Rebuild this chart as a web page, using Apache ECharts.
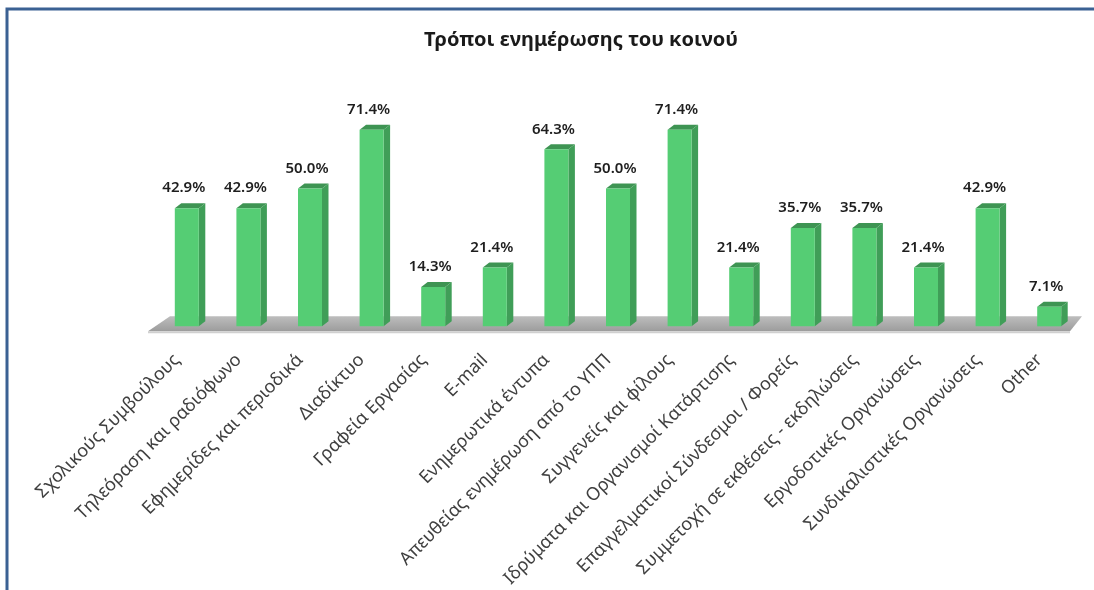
<!DOCTYPE html>
<html>
<head>
<meta charset="utf-8">
<script src="https://cdn.jsdelivr.net/npm/echarts@6/dist/echarts.min.js"></script>
<style>
  html, body { margin: 0; padding: 0; background: #fff; }
  #main { width: 1094px; height: 590px; }
</style>
</head>
<body>
<div id="main"></div>
<script>
// categories and percentages
const categories = [
  'Σχολικούς Συμβούλους',
  'Τηλεόραση και ραδιόφωνο',
  'Εφημερίδες και περιοδικά',
  'Διαδίκτυο',
  'Γραφεία Εργασίας',
  'E-mail',
  'Ενημερωτικά έντυπα',
  'Απευθείας ενημέρωση από το ΥΠΠ',
  'Συγγενείς και φίλους',
  'Ιδρύματα και Οργανισμοί Κατάρτισης',
  'Επαγγελματικοί Σύνδεσμοι / Φορείς',
  'Συμμετοχή σε εκθέσεις - εκδηλώσεις',
  'Εργοδοτικές Οργανώσεις',
  'Συνδικαλιστικές Οργανώσεις',
  'Other'
];
const percents = [42.9, 42.9, 50.0, 71.4, 14.3, 21.4, 64.3, 50.0, 71.4, 21.4, 35.7, 35.7, 21.4, 42.9, 7.1];
const titleText = 'Τρόποι ενημέρωσης του κοινού';

const chart = echarts.init(document.getElementById('main'), null, { renderer: 'canvas' });

const barData = percents.map((v, i) => [i, v]);

// fake 3d column: front face, side face, top face + value label
function renderBar(params, api) {
  const i = api.value(0);
  const v = api.value(1);
  const top = api.coord([i, v]);
  const base = api.coord([i, 0]);
  const w = 24, dx = 6.5, dy = -5;
  const x0 = top[0] - w / 2, x1 = top[0] + w / 2;
  const yt = top[1], yb = base[1];
  return {
    type: 'group',
    children: [
      { type: 'polygon', shape: { points: [[x1, yt], [x1 + dx, yt + dy], [x1 + dx, yb + dy], [x1, yb]] },
        style: { fill: '#409E58' } },
      { type: 'polygon', shape: { points: [[x0, yt], [x1, yt], [x1 + dx, yt + dy], [x0 + dx, yt + dy]] },
        style: { fill: '#3E9453' } },
      { type: 'rect', shape: { x: x0, y: yt, width: w, height: yb - yt },
        style: { fill: '#55CD74' } },
      { type: 'text', x: top[0] - 3, y: yt - 20,
        style: { text: v.toFixed(1) + '%', fill: '#1E1E1E', font: '600 15px "Noto Sans"',
                 align: 'center', verticalAlign: 'middle' } }
    ]
  };
}

// grey floor under the columns
function renderFloor(params, api) {
  const n = categories.length;
  const band = api.size([1, 0])[0];
  const first = api.coord([0, 0]);
  const last = api.coord([n - 1, 0]);
  const xl = first[0] - band / 2, xr = last[0] + band / 2, y = first[1];
  return {
    type: 'group',
    children: [
      { type: 'polygon',
        shape: { points: [[xl - 8, y + 5], [xl + 14, y - 10], [xr + 2, y - 10], [xr - 10, y + 5]] },
        style: { fill: new echarts.graphic.LinearGradient(0, 0, 0, 1, [
          { offset: 0, color: '#BDBDBD' }, { offset: 1, color: '#9C9C9C' }]) } },
      { type: 'polygon',
        shape: { points: [[xl - 8, y + 5], [xr - 10, y + 5], [xr - 10, y + 7], [xl - 8, y + 7]] },
        style: { fill: '#D0D0D0' } }
    ]
  };
}

const option = {
  backgroundColor: '#fff',
  animation: false,
  title: {
    text: titleText,
    left: 576, top: 25, textAlign: 'center',
    textStyle: { fontFamily: 'Noto Sans', fontSize: 20, fontWeight: 'bold', color: '#1A1A1A' }
  },
  grid: { left: 156, right: 14, top: 106, bottom: 262, containLabel: false },
  xAxis: {
    type: 'category',
    data: categories,
    axisLine: { show: false },
    axisTick: { show: false },
    axisLabel: {
      interval: 0, rotate: 45, margin: 21, padding: [0, 14, 0, 0],
      fontFamily: 'Noto Sans', fontSize: 18, color: '#404040'
    }
  },
  yAxis: {
    type: 'value', min: 0, max: 80, show: false, splitLine: { show: false }
  },
  graphic: [
    { type: 'polyline', shape: { points: [[7, 590], [7, 9], [1094, 9]] },
      style: { stroke: '#3B6193', lineWidth: 3, fill: null } }
  ],
  series: [
    { type: 'custom', z: 1, renderItem: renderFloor, data: [[0, 0]], encode: { x: 0, y: 1 }, silent: true },
    { type: 'custom', z: 2, renderItem: renderBar, data: barData, encode: { x: 0, y: 1 } }
  ]
};
chart.setOption(option);
</script>
</body>
</html>
